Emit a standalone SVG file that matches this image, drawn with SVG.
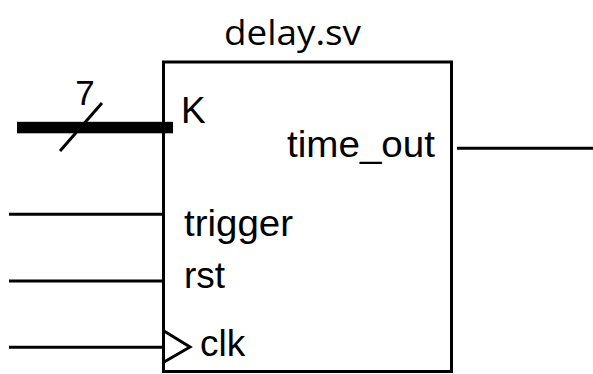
<svg xmlns="http://www.w3.org/2000/svg" width="593" height="374" viewBox="0 0 593 374">
<style>
.w{stroke:#000;stroke-width:3;fill:none}
.t{font-family:"Liberation Sans",Arial,sans-serif;font-size:37px;fill:#000}
</style>
<rect width="593" height="374" fill="#fff"/>
<g id="module">
<rect class="w" x="163.5" y="62" width="288" height="309.5"/>
<text x="224" y="45" style="font-family:'Open Sans',sans-serif;font-size:34px;fill:#000" textLength="137" lengthAdjust="spacingAndGlyphs">delay.sv</text>
<text class="t" x="181" y="123">K</text>
<text class="t" x="287" y="157" textLength="148" lengthAdjust="spacingAndGlyphs">time_out</text>
<text class="t" x="184" y="236" textLength="109" lengthAdjust="spacingAndGlyphs">trigger</text>
<text class="t" x="184" y="288">rst</text>
<text class="t" x="200" y="356">clk</text>
<polyline class="w" points="164,331 190,347 164,362"/>
</g>
<g id="connectors">
<rect x="17" y="121.8" width="156" height="11.5" fill="#000"/>
<line class="w" x1="60" y1="151" x2="102" y2="103"/>
<text x="85" y="105" text-anchor="middle" style="font-family:'Liberation Sans',Arial,sans-serif;font-size:35px;fill:#000">7</text>
<line class="w" x1="9" y1="214.3" x2="163.5" y2="214.3"/>
<line class="w" x1="9" y1="281" x2="163.5" y2="281"/>
<line class="w" x1="9" y1="347.3" x2="163.5" y2="347.3"/>
<line class="w" x1="457" y1="148.3" x2="593" y2="148.3"/>
</g>
</svg>
